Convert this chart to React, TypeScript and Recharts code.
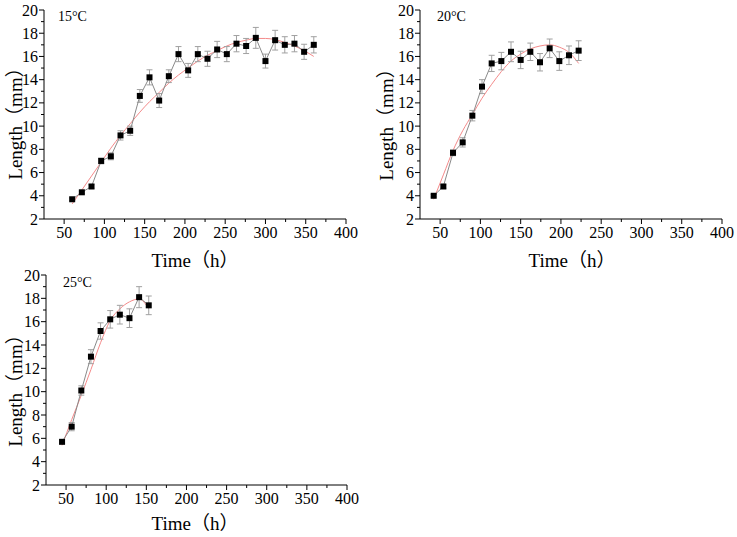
import { LineChart, Line, XAxis, YAxis, ErrorBar } from 'recharts';

// 15 °C
const hours15 = [60, 72, 84, 96, 108, 120, 132, 144, 156, 168, 180, 192, 204, 216, 228, 240, 252, 264, 276, 288, 300, 312, 324, 336, 348, 360];
const length15 = [3.7, 4.3, 4.8, 7.0, 7.4, 9.2, 9.6, 12.6, 14.2, 12.2, 14.3, 16.2, 14.8, 16.2, 15.8, 16.6, 16.2, 17.1, 16.9, 17.6, 15.6, 17.4, 17.0, 17.1, 16.4, 17.0];
const err15 = [0.1, 0.1, 0.15, 0.25, 0.3, 0.4, 0.4, 0.55, 0.65, 0.6, 0.55, 0.65, 0.6, 0.65, 0.65, 0.7, 0.65, 0.7, 0.65, 0.9, 0.6, 0.85, 0.7, 0.7, 0.65, 0.7];
const fit15 = [3.3, 4.5, 5.7, 6.9, 8.1, 9.2, 10.2, 11.2, 12.1, 12.9, 13.7, 14.4, 15.0, 15.6, 16.1, 16.5, 16.9, 17.2, 17.4, 17.55, 17.55, 17.45, 17.2, 16.9, 16.5, 16.0];

// 20 °C
const hours20 = [42, 54, 66, 78, 90, 102, 114, 126, 138, 150, 162, 174, 186, 198, 210, 222];
const length20 = [4.0, 4.8, 7.7, 8.6, 10.9, 13.4, 15.4, 15.6, 16.4, 15.7, 16.4, 15.5, 16.7, 15.6, 16.1, 16.5];
const err20 = [0.1, 0.15, 0.25, 0.4, 0.45, 0.6, 0.7, 0.75, 0.85, 0.75, 0.75, 0.75, 0.8, 0.8, 0.8, 0.85];
const fit20 = [3.7, 5.8, 7.9, 9.6, 11.0, 12.4, 13.6, 14.7, 15.6, 16.2, 16.65, 16.9, 17.0, 16.8, 16.35, 15.4];

// 25 °C
const hours25 = [45, 57, 69, 81, 93, 105, 117, 129, 141, 153];
const length25 = [5.7, 7.0, 10.1, 13.0, 15.2, 16.2, 16.6, 16.3, 18.1, 17.4];
const err25 = [0.15, 0.35, 0.4, 0.6, 0.7, 0.75, 0.8, 0.8, 0.9, 0.8];
const fit25 = [5.4, 7.6, 9.7, 11.9, 14.2, 16.1, 17.1, 17.7, 17.95, 17.1];

const xMajor = [50, 100, 150, 200, 250, 300, 350, 400];
const xMinor = [75, 125, 175, 225, 275, 325, 375];
const yMajor = [2, 4, 6, 8, 10, 12, 14, 16, 18, 20];
const yMinor = [3, 5, 7, 9, 11, 13, 15, 17, 19];

const xTicks = [...xMajor, ...xMinor].sort((a, b) => a - b);
const yTicks = [...yMajor, ...yMinor].sort((a, b) => a - b);

const serif = '"Liberation Serif", "Times New Roman", "Noto Sans CJK SC", serif';

const toRows = (t: number[], len: number[], err: number[], fit: number[]) =>
  t.map((time, i) => ({ time, length: len[i], err: err[i], fit: fit[i] }));

const XTick = ({ x, y, payload }: any) => {
  const major = xMajor.includes(payload.value);
  return (
    <g>
      <line x1={x} y1={y} x2={x} y2={y + (major ? 5 : 3)} stroke="#000" />
      {major && (
        <text x={x} y={y + 19} textAnchor="middle" fontSize={16} fontFamily={serif} fill="#000">
          {payload.value}
        </text>
      )}
    </g>
  );
};

const YTick = ({ x, y, payload }: any) => {
  const major = yMajor.includes(payload.value);
  return (
    <g>
      <line x1={x} y1={y} x2={x - (major ? 5 : 3)} y2={y} stroke="#000" />
      {major && (
        <text x={x - 6} y={y + 5.5} textAnchor="end" fontSize={16} fontFamily={serif} fill="#000">
          {payload.value}
        </text>
      )}
    </g>
  );
};

const Square = (props: any) => {
  const { cx, cy, index } = props;
  return <rect key={`sq-${index}`} x={cx - 3} y={cy - 3} width={6} height={6} fill="#000" />;
};

type PanelProps = {
  rows: any[];
  tag: string;
  left: number;
  top: number;
  width: number;
  height: number;
  axisLeft: number;
  axisBottom: number;
  right: number;
  tagPos: [number, number];
  yTitle: [number, number];
  xTitle: [number, number];
};

function Panel({ rows, tag, left, top, width, height, axisLeft, axisBottom, right, tagPos, yTitle, xTitle }: PanelProps) {
  return (
    <>
      <div style={{ position: 'absolute', left, top }}>
        <LineChart width={width} height={height} data={rows} margin={{ top: 10, right, bottom: 0, left: 0 }}>
          <XAxis
            dataKey="time"
            type="number"
            domain={[25, 400]}
            ticks={xTicks}
            interval={0}
            height={axisBottom}
            tickSize={0}
            tickMargin={0}
            tickLine={false}
            axisLine={{ stroke: '#000' }}
            tick={XTick}
          />
          <YAxis
            type="number"
            domain={[2, 20]}
            ticks={yTicks}
            interval={0}
            width={axisLeft}
            tickSize={0}
            tickMargin={0}
            tickLine={false}
            axisLine={{ stroke: '#000' }}
            tick={YTick}
          />
          {/* fitted growth curve */}
          <Line
            dataKey="fit"
            type="monotone"
            stroke="#f48a8a"
            strokeWidth={1}
            dot={false}
            activeDot={false}
            isAnimationActive={false}
          />
          {/* measured means with SD bars */}
          <Line
            dataKey="length"
            type="linear"
            stroke="#8a8a8a"
            strokeWidth={1}
            dot={Square}
            activeDot={false}
            isAnimationActive={false}
          >
            <ErrorBar dataKey="err" direction="y" width={3} stroke="#a0a0a0" strokeWidth={1} isAnimationActive={false} />
          </Line>
        </LineChart>
      </div>
      <div style={{ position: 'absolute', left: tagPos[0], top: tagPos[1], fontFamily: serif, fontSize: 14, lineHeight: 1 }}>
        {tag}
      </div>
      <div
        style={{
          position: 'absolute',
          left: yTitle[0],
          top: yTitle[1],
          transform: 'translate(-50%, -50%) rotate(-90deg)',
          fontFamily: serif,
          fontSize: 19,
          lineHeight: 1,
          whiteSpace: 'nowrap',
        }}
      >
        Length（mm）
      </div>
      <div
        style={{
          position: 'absolute',
          left: xTitle[0],
          top: xTitle[1],
          transform: 'translate(-50%, -50%)',
          fontFamily: serif,
          fontSize: 19,
          lineHeight: 1,
          whiteSpace: 'nowrap',
        }}
      >
        Time（h）
      </div>
    </>
  );
}

export default function App() {
  return (
    <div style={{ position: 'absolute', left: 0, top: 0, width: 737, height: 537, background: '#fff' }}>
      <Panel
        rows={toRows(hours15, length15, err15, fit15)}
        tag="15°C"
        left={0}
        top={0}
        width={370}
        height={270}
        axisLeft={44}
        axisBottom={51}
        right={24}
        tagPos={[58, 10]}
        yTitle={[15, 119]}
        xTitle={[195, 260]}
      />
      <Panel
        rows={toRows(hours20, length20, err20, fit20)}
        tag="20°C"
        left={370}
        top={0}
        width={367}
        height={270}
        axisLeft={50}
        axisBottom={51}
        right={15}
        tagPos={[437, 10]}
        yTitle={[386, 120]}
        xTitle={[572, 260]}
      />
      <Panel
        rows={toRows(hours25, length25, err25, fit25)}
        tag="25°C"
        left={0}
        top={265}
        width={370}
        height={272}
        axisLeft={46}
        axisBottom={52}
        right={23}
        tagPos={[63, 276]}
        yTitle={[15, 386]}
        xTitle={[195, 523]}
      />
    </div>
  );
}
